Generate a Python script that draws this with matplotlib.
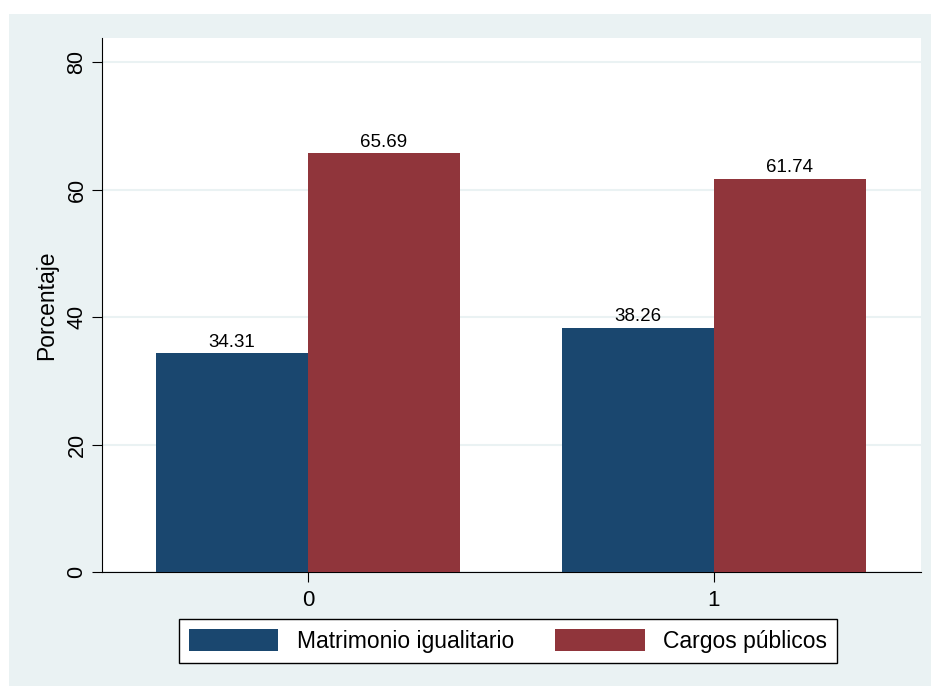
import numpy as np
import matplotlib
matplotlib.use("Agg")
import matplotlib.pyplot as plt
from matplotlib.patches import Rectangle

plt.rcParams['font.family'] = ['Liberation Sans', 'DejaVu Sans']

groups = ["0", "1"]
series = ["Matrimonio igualitario", "Cargos públicos"]
values = [[34.31, 38.26], [65.69, 61.74]]
colors = ["#1a476f", "#90353b"]
bg = "#eaf2f3"

W, H = 931, 686
fig = plt.figure(figsize=(W / 100, H / 100), dpi=100)
fig.patch.set_facecolor("white")
# light outer panel (Stata graph region)
fig.patches.append(Rectangle((9 / W, 0), 1 - 9 / W, 1 - 14 / H,
                             transform=fig.transFigure, facecolor=bg,
                             edgecolor="none", zorder=-10))

ax = fig.add_axes([102 / W, (H - 572) / H, (921 - 102) / W, (572 - 38) / H])
ax.set_facecolor("white")

x = np.arange(len(groups))
width = 0.374
for i, (name, vals) in enumerate(zip(series, values)):
    pos = x + (i - 0.5) * width
    bars = ax.bar(pos, vals, width, color=colors[i], label=name, zorder=3)
    for b, v in zip(bars, vals):
        ax.annotate(f"{v:.2f}", (b.get_x() + b.get_width() / 2, v),
                    xytext=(0, 2), textcoords="offset points",
                    ha="center", va="bottom", fontsize=13.5)

ax.set_xlim(-0.507, 1.51)
ax.set_ylim(0, 83.8)
ax.set_yticks([0, 20, 40, 60, 80])
ax.set_xticks(x)
ax.set_xticklabels(groups)
ax.grid(axis="y", color=bg, linewidth=1.5, zorder=0)
for s in ["top", "right"]:
    ax.spines[s].set_visible(False)
ax.tick_params(axis="y", labelrotation=90, labelsize=15.5, length=7)
ax.tick_params(axis="x", labelsize=16, length=7, pad=6)
for lab in ax.get_yticklabels():
    lab.set_va("center")
ax.set_ylabel("Porcentaje", fontsize=16.5, labelpad=6)

leg = ax.legend(loc="upper center", bbox_to_anchor=(508 / W, (H - 619) / H),
                bbox_transform=fig.transFigure, ncol=2, fontsize=16.5,
                frameon=True, fancybox=False, framealpha=1,
                handlelength=3.9, handleheight=1.1, columnspacing=1.8,
                borderpad=0.45, borderaxespad=0, handletextpad=0.8)
leg.get_frame().set_edgecolor("black")
leg.get_frame().set_linewidth(1.0)

fig.savefig("out.png", dpi=100, facecolor=fig.get_facecolor())
